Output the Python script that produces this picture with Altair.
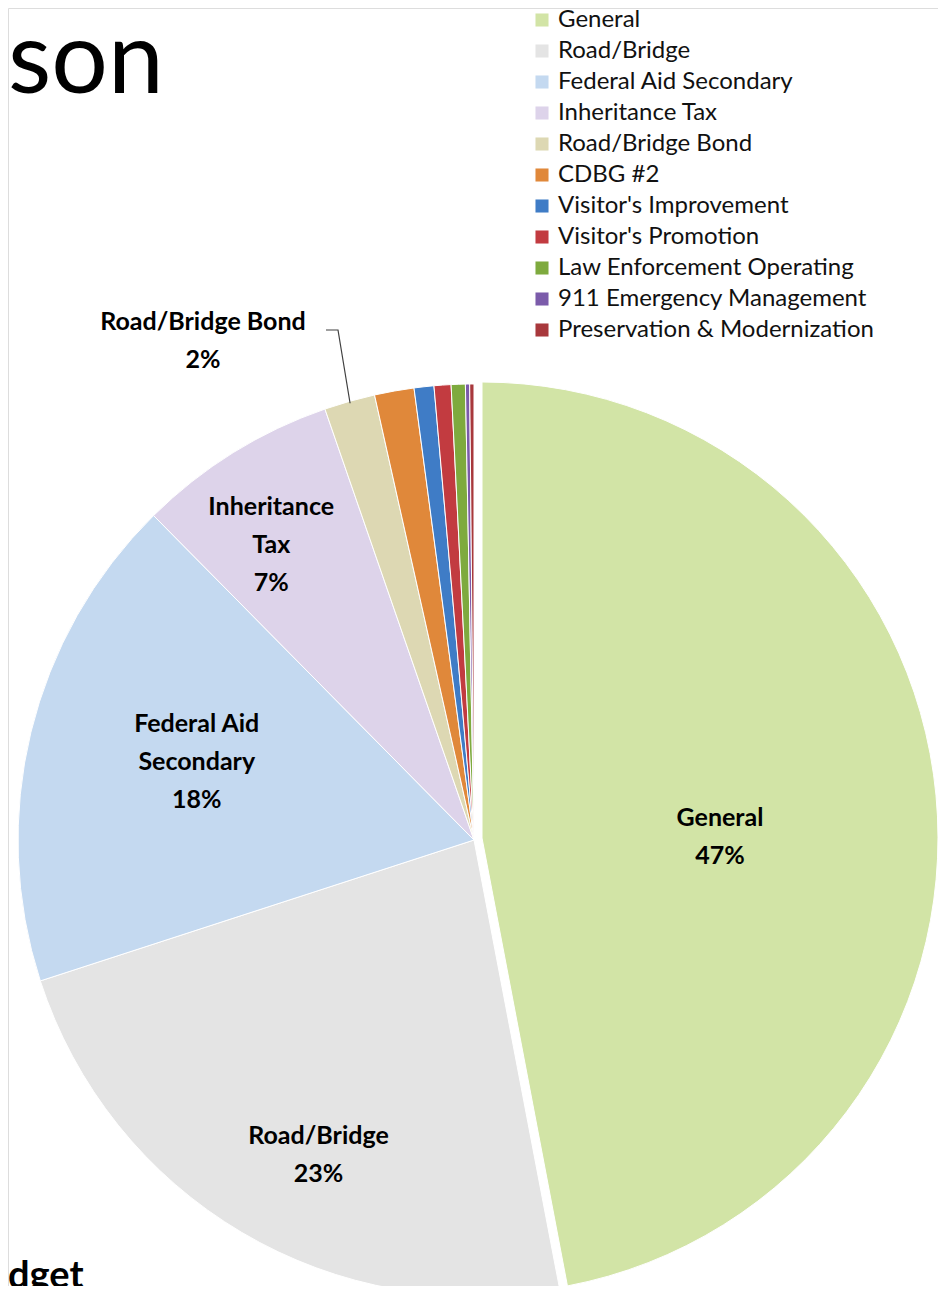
import math
import altair as alt
import pandas as pd

# ---- data ----
categories = ["General", "Road/Bridge", "Federal Aid Secondary", "Inheritance Tax",
              "Road/Bridge Bond", "CDBG #2", "Visitor's Improvement", "Visitor's Promotion",
              "Law Enforcement Operating", "911 Emergency Management",
              "Preservation & Modernization"]
shares = [47.0, 23.0, 17.6, 7.1, 1.8, 1.4, 0.7, 0.6, 0.5, 0.15, 0.15]
colors = ["#D2E4A6", "#E4E4E4", "#C4D9F0", "#DDD3EA", "#DDD8B3", "#E0883A",
          "#3F7CC6", "#C23B40", "#7EAA3E", "#7B5BAA", "#A8383C"]
label_names = {"General": "General", "Road/Bridge": "Road/Bridge",
               "Federal Aid Secondary": "Federal Aid\nSecondary",
               "Inheritance Tax": "Inheritance\nTax", "Road/Bridge Bond": "Road/Bridge Bond"}

# ---- geometry (plot coords = page coords - 8) ----
W, H = 930, 1278
CX, CY = 466, 832          # pie centre
GX, GY = 474, 830          # exploded "General" slice centre
R = 456
TAU = 2 * math.pi
LINE_H = 38

df = pd.DataFrame({"category": categories, "share": shares, "order": list(range(len(shares)))})

theta_scale = alt.Scale(domain=[0, 100], range=[0, TAU])
color_scale = alt.Scale(domain=categories, range=colors)

base = alt.Chart(df).transform_window(
    cum="sum(share)", frame=[None, 0], sort=[{"field": "order"}]
).transform_calculate(start="datum.cum - datum.share")

legend = alt.Legend(orient="none", legendX=522, legendY=0, title=None,
                    symbolType="square", symbolSize=170, symbolStrokeWidth=0,
                    labelFont="Lato", labelFontSize=24, labelColor="#111111",
                    labelOffset=4, rowPadding=7, padding=0, labelLimit=400)

arcs_rest = base.transform_filter(alt.datum.category != "General").mark_arc(
    radius=R, stroke="#ffffff", strokeWidth=1
).encode(
    theta=alt.Theta("start:Q", scale=theta_scale),
    theta2="cum:Q",
    x=alt.value(CX), y=alt.value(CY),
    color=alt.Color("category:N", scale=color_scale, legend=legend, sort=categories),
)

arc_general = base.transform_filter(alt.datum.category == "General").mark_arc(
    radius=R, stroke="#ffffff", strokeWidth=1
).encode(
    theta=alt.Theta("start:Q", scale=theta_scale),
    theta2="cum:Q",
    x=alt.value(GX), y=alt.value(GY),
    color=alt.Color("category:N", scale=color_scale, legend=legend, sort=categories),
)

# data labels: text from the shares, placed around the centre (radius, angle in degrees)
label_geom = {"General": (246, 89.3), "Road/Bridge": (351, 206.3),
              "Federal Aid Secondary": (288, 285.7), "Inheritance Tax": (358, 325.5),
              "Road/Bridge Bond": (568, 331.5)}
lab_rows = []
for c, s in zip(categories, shares):
    if c in label_names:
        r, a = label_geom[c]
        txt = f"{label_names[c]}\n{round(s)}%"
        lab_rows.append({"text": txt, "r": r, "a": a, "n": txt.count("\n")})
labels = alt.Chart(pd.DataFrame(lab_rows)).transform_calculate(
    lx=f"{CX} + datum.r * sin(datum.a * PI / 180)",
    ly=f"{CY} - datum.r * cos(datum.a * PI / 180) - datum.n * {LINE_H} / 2",
).mark_text(font="Lato", fontWeight="bold", fontSize=25, lineBreak="\n",
            lineHeight=LINE_H, align="center", baseline="middle", color="#000000").encode(
    x=alt.X("lx:Q", scale=None), y=alt.Y("ly:Q", scale=None), text="text:N")

# leader line for the Road/Bridge Bond label, ending on the slice edge at its mid angle
cum_before = sum(shares[:4])
mid = (cum_before + shares[4] / 2) / 100 * TAU
ex, ey = CX + (R - 2) * math.sin(mid), CY - (R - 2) * math.cos(mid)
leader = alt.Chart(pd.DataFrame({"px": [318, 330, ex], "py": [322, 322, ey], "k": [0, 1, 2]})).mark_line(
    color="#404040", strokeWidth=1.2).encode(
    x=alt.X("px:Q", scale=None), y=alt.Y("py:Q", scale=None), order="k:Q")

# fragments of the slide behind the chart
slide_text = alt.Chart(pd.DataFrame({"t": ["son"]})).mark_text(
    font="Lato", fontSize=100, align="left", baseline="alphabetic", color="#000000"
).encode(x=alt.value(0), y=alt.value(85), text="t:N")
slide_text2 = alt.Chart(pd.DataFrame({"t": ["dget"]})).mark_text(
    font="Lato", fontWeight="bold", fontSize=38, align="left", baseline="alphabetic", color="#000000"
).encode(x=alt.value(0), y=alt.value(1280), text="t:N")

chart = alt.layer(arcs_rest, arc_general, leader, labels, slide_text, slide_text2).properties(
    width=W, height=H, padding=0,
    autosize=alt.AutoSizeParams(type="none"),
).configure_view(stroke=None).configure(background="#ffffff")

chart.save("out.html", embed_options={"renderer": "svg", "actions": False})
